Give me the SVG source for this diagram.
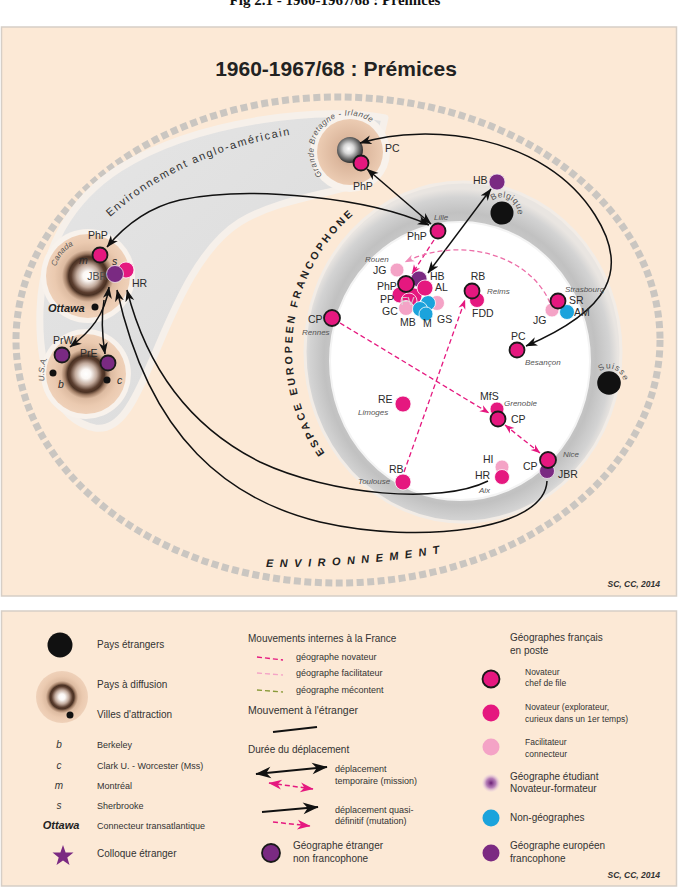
<svg xmlns="http://www.w3.org/2000/svg" width="678" height="889" viewBox="0 0 678 889">
<defs>
<style>
text{font-family:"Liberation Sans",Arial,sans-serif;fill:#2b2b2b}
.lbl{font-size:10.5px}
.city{font-size:8px;font-style:italic;fill:#555}
.arc{font-size:8px;fill:#555}
.lg{font-size:10px;fill:#333}
.ls{font-size:9px;fill:#333}
.lt{font-size:8.5px;fill:#333}
.pk{fill:#e5187f;stroke:#fff;stroke-width:0.8}
.pkb{fill:#e5187f;stroke:#1a1a1a;stroke-width:1.8}
.pl{fill:#f4a3c6;stroke:#fff;stroke-width:0.8}
.pu{fill:#7a2a82;stroke:#f0e4f0;stroke-width:0.8}
.pub{fill:#7a2a82;stroke:#1a1a1a;stroke-width:1.8}
.bl{fill:#1ba3dc;stroke:#fff;stroke-width:0.8}
.blk{fill:#111}
.arr{fill:none;stroke:#111;stroke-width:1.5}
.pdash{fill:none;stroke:#e5187f;stroke-width:1.3;stroke-dasharray:5 3}
</style>
<marker id="aB" viewBox="0 0 12 10" refX="11.5" refY="5" markerWidth="12" markerHeight="10" markerUnits="userSpaceOnUse" orient="auto-start-reverse"><path d="M0,0.5 L12,5 L0,9.5 L3.5,5z" fill="#111"/></marker>
<marker id="aBL" viewBox="0 0 12 10" refX="11.5" refY="5" markerWidth="17" markerHeight="13" markerUnits="userSpaceOnUse" orient="auto-start-reverse"><path d="M0,0.5 L12,5 L0,9.5 L3.5,5z" fill="#111"/></marker>
<marker id="aP" viewBox="0 0 12 10" refX="11.5" refY="5" markerWidth="10" markerHeight="8" markerUnits="userSpaceOnUse" orient="auto-start-reverse"><path d="M0,0.5 L12,5 L0,9.5 L3.5,5z" fill="#e5187f"/></marker>
<marker id="aPL" viewBox="0 0 12 10" refX="11.5" refY="5" markerWidth="14" markerHeight="11" markerUnits="userSpaceOnUse" orient="auto-start-reverse"><path d="M0,0.5 L12,5 L0,9.5 L3.5,5z" fill="#e5187f"/></marker>
<marker id="aL" viewBox="0 0 12 10" refX="11.5" refY="5" markerWidth="10" markerHeight="8" markerUnits="userSpaceOnUse" orient="auto-start-reverse"><path d="M0,0.5 L12,5 L0,9.5 L3.5,5z" fill="#f08dba"/></marker>
<radialGradient id="sph">
<stop offset="0" stop-color="#ffffff"/>
<stop offset="0.12" stop-color="#fbf7f4"/>
<stop offset="0.27" stop-color="#c2aa9c"/>
<stop offset="0.4" stop-color="#5a3d2e"/>
<stop offset="0.46" stop-color="#4a3123"/>
<stop offset="0.53" stop-color="#a07d65"/>
<stop offset="0.62" stop-color="#ddbba1"/>
<stop offset="0.8" stop-color="#ebcab0"/>
<stop offset="1" stop-color="#efd1b9"/>
</radialGradient>
<radialGradient id="silver" cx="0.45" cy="0.45" r="0.55">
<stop offset="0" stop-color="#ffffff"/>
<stop offset="0.35" stop-color="#d8d8d8"/>
<stop offset="0.75" stop-color="#6a6a6a"/>
<stop offset="1" stop-color="#2e2e2e"/>
</radialGradient>
<radialGradient id="gbd">
<stop offset="0" stop-color="#b89580"/>
<stop offset="0.45" stop-color="#dcb79d"/>
<stop offset="1" stop-color="#ecccb3"/>
</radialGradient>
<radialGradient id="eg" cx="0.49" cy="0.52" r="0.5">
<stop offset="0.7" stop-color="#d2d2d2"/>
<stop offset="0.86" stop-color="#c1c1c1"/>
<stop offset="0.95" stop-color="#d3d3d3"/>
<stop offset="1" stop-color="#e9e5e1"/>
</radialGradient>
<linearGradient id="bandg" x1="0" y1="0" x2="1" y2="1">
<stop offset="0" stop-color="#e6e6e6"/>
<stop offset="1" stop-color="#d9d9d9"/>
</linearGradient>
<radialGradient id="pg">
<stop offset="0" stop-color="#6a1f75"/>
<stop offset="0.5" stop-color="#a565b0" stop-opacity="0.8"/>
<stop offset="1" stop-color="#e8d0ea" stop-opacity="0"/>
</radialGradient>
<path id="tpEsp" d="M324.7 453.2 A180 180 0 0 1 361.2 208.2"/>
<path id="tpAng" d="M110 217 Q182 153 295 134"/>
<path id="tpEnv" d="M266 567 Q360 568 452 551"/>
<path id="tpGB" d="M322.4 175.1 A36 36 0 0 1 375.5 126.5"/>
<path id="tpCan" d="M56.1 266.5 A33 33 0 0 1 74 245.1"/>
<path id="tpUSA" d="M44.6 380.9 A40 40 0 0 1 47.7 357.1"/>
<path id="tpBel" d="M492.5 200.8 A15.5 15.5 0 0 1 517.2 216.2"/>
<path id="tpSui" d="M600.1 371.6 A14.5 14.5 0 0 1 623.3 380.5"/>
</defs>

<rect width="678" height="889" fill="#ffffff"/>
<text x="335" y="5" text-anchor="middle" style="font-family:'Liberation Serif','Times New Roman',serif;font-weight:bold;font-size:15px;fill:#111">Fig 2.1 - 1960-1967/68 : Prémices</text>

<!-- main panel -->
<rect x="1.5" y="27" width="675" height="569" fill="#fce9d6" stroke="#d6cec6" stroke-width="1.5"/>
<text x="336" y="76" text-anchor="middle" style="font-size:21px;font-weight:bold;fill:#222">1960-1967/68 : Prémices</text>

<!-- outer environment ring -->
<ellipse cx="338" cy="340" rx="322" ry="243" fill="none" stroke="#cac6c1" stroke-width="7" stroke-dasharray="7 3.5"/>

<!-- anglo-american band -->
<path d="M385 118 C330 106 200 118 120 168 C70 200 42 250 40 310 C38 370 55 420 95 428 C120 432 135 400 150 365 C170 320 195 250 240 222 C280 198 330 195 370 180 Z" fill="url(#bandg)" stroke="#f6f0ea" stroke-width="7" stroke-linejoin="round"/>

<!-- espace européen francophone -->
<ellipse cx="463" cy="352" rx="158" ry="170" fill="url(#eg)" stroke="#f2ece6" stroke-width="3"/>
<ellipse cx="460" cy="361" rx="130" ry="139" fill="#ffffff" stroke="#f4f4f4" stroke-width="2"/>

<!-- countries -->
<g id="canada">
<circle cx="88" cy="276" r="47" fill="#f8f2ec"/>
<circle cx="88" cy="276" r="42" fill="url(#sph)"/>
<text class="arc" font-style="italic"><textPath href="#tpCan">Canada</textPath></text>
</g>
<g id="usa">
<circle cx="86" cy="374" r="45" fill="#f8f2ec"/>
<circle cx="86" cy="374" r="40" fill="url(#sph)"/>
<text class="arc" font-style="italic"><textPath href="#tpUSA">U.S.A.</textPath></text>
</g>
<g id="gb">
<circle cx="350" cy="152" r="40" fill="#f8f2ec"/>
<circle cx="350" cy="152" r="33" fill="url(#gbd)"/>
<circle cx="350" cy="150" r="13" fill="url(#silver)"/>
<text class="arc" font-style="italic" letter-spacing="0.5"><textPath href="#tpGB">Grande Bretagne - Irlande</textPath></text>
</g>
<g id="belgique">
<circle cx="502" cy="213" r="11.5" class="blk"/>
<text class="arc" style="font-size:8.5px" letter-spacing="0.4"><textPath href="#tpBel">Belgique</textPath></text>
</g>
<g id="suisse">
<circle cx="609" cy="383" r="11.8" class="blk"/>
<text class="arc" style="font-size:8.5px" letter-spacing="0.8"><textPath href="#tpSui">Suisse</textPath></text>
</g>

<!-- region labels -->
<text style="font-size:11px;fill:#333" letter-spacing="1.6"><textPath href="#tpAng">Environnement anglo-américain</textPath></text>
<text style="font-size:10.5px;font-weight:bold;fill:#222" letter-spacing="2.8"><textPath href="#tpEsp">ESPACE EUROPEEN FRANCOPHONE</textPath></text>
<text style="font-size:11px;font-weight:bold;font-style:italic;fill:#222" letter-spacing="6.5"><textPath href="#tpEnv">ENVIRONNEMENT</textPath></text>

<!-- connectors -->
<g id="connectors">
<path class="arr" d="M429 225 C370 198 250 185 180 200 C150 207 126 224 107 247" marker-start="url(#aB)" marker-end="url(#aB)"/>
<path class="arr" d="M367 169 L431 224" marker-start="url(#aB)" marker-end="url(#aB)"/>
<path class="arr" d="M360 143 C430 122 545 135 595 215 C630 270 610 310 526 346" marker-start="url(#aB)" marker-end="url(#aB)"/>
<path class="arr" d="M491 189 L428 273" marker-start="url(#aB)" marker-end="url(#aB)"/>
<path class="arr" d="M488 481 C440 505 330 495 260 462 C200 432 150 380 127 290" marker-end="url(#aB)"/>
<path class="arr" d="M547 481 C545 530 420 545 320 522 C230 500 150 440 117 290" marker-end="url(#aB)"/>
<path class="arr" d="M109 287 C105 315 90 332 70 347" marker-start="url(#aB)" marker-end="url(#aB)"/>
<path class="arr" d="M104 300 C101 318 102 335 105 354" marker-end="url(#aB)"/>
<path class="pdash" d="M340 323 L489 413" marker-end="url(#aP)"/>
<path class="pdash" d="M505 425 L540 453" marker-start="url(#aP)" marker-end="url(#aP)"/>
<path class="pdash" d="M404 472 L465 300" marker-end="url(#aP)"/>
<path class="pdash" d="M434 240 L412 274" marker-end="url(#aP)"/>
<path class="pdash" style="stroke:#ec6ea8" d="M550 303 C530 255 460 235 405 262" marker-end="url(#aL)"/>
</g>

<!-- nodes: Canada / USA -->
<g id="n-canada-php">
<circle cx="100" cy="255" r="7.5" class="pkb"/>
<text x="88" y="239" class="lbl">PhP</text>
<text x="79" y="264" class="lbl" font-style="italic">m</text>
<text x="112" y="265" class="lbl" font-style="italic">s</text>
</g>
<g id="n-canada-hr">
<circle cx="126" cy="270" r="8" class="pk"/>
<text x="132" y="287" class="lbl">HR</text>
</g>
<g id="n-canada-jbr">
<circle cx="115" cy="274" r="8.5" class="pu"/>
<text x="107" y="280" text-anchor="end" class="lbl" style="fill:#4a4a4a">JBR</text>
</g>
<g id="n-ottawa">
<circle cx="95" cy="307" r="3.5" class="blk"/>
<text x="48" y="312" style="font-size:11px;font-weight:bold;font-style:italic;fill:#222">Ottawa</text>
</g>
<g id="n-prw">
<circle cx="62" cy="355" r="7.5" class="pub"/>
<text x="53" y="344" class="lbl">PrW</text>
</g>
<g id="n-pre">
<circle cx="108" cy="363" r="7.5" class="pub"/>
<text x="80" y="357" class="lbl">PrE</text>
</g>
<g id="n-berkeley">
<circle cx="53" cy="373" r="3.5" class="blk"/>
<text x="58" y="388" class="lbl" font-style="italic">b</text>
</g>
<g id="n-clark">
<circle cx="107" cy="380" r="3.5" class="blk"/>
<text x="117" y="384" class="lbl" font-style="italic">c</text>
</g>

<!-- GB -->
<g id="n-gb-php">
<circle cx="361" cy="163" r="7.5" class="pkb"/>
<text x="353" y="190" class="lbl">PhP</text>
<text x="385" y="152" class="lbl">PC</text>
</g>
<!-- Belgique HB -->
<g id="n-hb-belgique">
<circle cx="497" cy="182" r="8" class="pu"/>
<text x="473" y="184" class="lbl">HB</text>
</g>

<!-- Lille -->
<g id="n-lille">
<circle cx="438" cy="231" r="7.5" class="pkb"/>
<text x="407" y="240" class="lbl">PhP</text>
<text x="434" y="220" class="city">Lille</text>
</g>

<!-- Paris cluster -->
<g id="n-paris">
<circle cx="400" cy="295" r="8" class="pk"/>
<circle cx="414" cy="296" r="8" class="pk"/>
<circle cx="409" cy="301" r="8" class="pk"/>
<circle cx="406" cy="308" r="7.5" class="pl"/>
<circle cx="437" cy="303" r="7.5" class="pl"/>
<circle cx="428" cy="303" r="7.5" class="bl"/>
<circle cx="420" cy="309" r="7.5" class="bl"/>
<circle cx="426" cy="314" r="7" class="bl"/>
<circle cx="419" cy="279" r="8" class="pu"/>
<circle cx="425" cy="288" r="8" class="pk"/>
<circle cx="406" cy="284" r="8" class="pkb"/>
<text x="377" y="290" class="lbl">PhP</text>
<text x="430" y="280" class="lbl">HB</text>
<text x="435" y="291" class="lbl">AL</text>
<text x="380" y="303" class="lbl">PP</text>
<text x="401" y="305" class="lbl" style="fill:#dadada">FV</text>
<text x="382" y="315" class="lbl">GC</text>
<text x="400" y="326" class="lbl">MB</text>
<text x="423" y="327" class="lbl">M</text>
<text x="437" y="323" class="lbl">GS</text>
</g>
<g id="n-rouen">
<circle cx="397" cy="270" r="7" class="pl"/>
<text x="373" y="274" class="lbl">JG</text>
<text x="365" y="262" class="city">Rouen</text>
</g>

<!-- Reims -->
<g id="n-reims">
<circle cx="477" cy="300" r="7.5" class="pk"/>
<circle cx="472" cy="291" r="7.5" class="pkb"/>
<text x="478" y="280" text-anchor="middle" class="lbl">RB</text>
<text x="487" y="294" class="city">Reims</text>
<text x="472" y="317" class="lbl">FDD</text>
</g>

<!-- Strasbourg -->
<g id="n-strasbourg">
<circle cx="552" cy="310" r="7" class="pl"/>
<circle cx="567" cy="312" r="7.5" class="bl"/>
<circle cx="558" cy="301" r="7.5" class="pkb"/>
<text x="565" y="292" class="city">Strasbourg</text>
<text x="569" y="304" class="lbl">SR</text>
<text x="574" y="316" class="lbl">AM</text>
<text x="533" y="324" class="lbl">JG</text>
</g>

<!-- Besançon -->
<g id="n-besancon">
<circle cx="517" cy="350" r="7.5" class="pkb"/>
<text x="511" y="340" class="lbl">PC</text>
<text x="525" y="365" class="city">Besançon</text>
</g>

<!-- Rennes -->
<g id="n-rennes">
<circle cx="332" cy="318" r="8" class="pkb"/>
<text x="308" y="323" class="lbl">CP</text>
<text x="302" y="335" class="city">Rennes</text>
</g>

<!-- Limoges -->
<g id="n-limoges">
<circle cx="403" cy="404" r="8" class="pk"/>
<text x="378" y="403" class="lbl">RE</text>
<text x="358" y="415" class="city">Limoges</text>
</g>

<!-- Grenoble -->
<g id="n-grenoble">
<circle cx="497" cy="409" r="7" class="pk"/>
<circle cx="498" cy="419" r="7.5" class="pkb"/>
<text x="480" y="400" class="lbl">MfS</text>
<text x="504" y="406" class="city">Grenoble</text>
<text x="511" y="423" class="lbl">CP</text>
</g>

<!-- Toulouse -->
<g id="n-toulouse">
<circle cx="403" cy="482" r="8" class="pk"/>
<text x="389" y="473" class="lbl">RB</text>
<text x="358" y="484" class="city">Toulouse</text>
</g>

<!-- Aix -->
<g id="n-aix">
<circle cx="502" cy="467" r="7" class="pl"/>
<circle cx="502" cy="477" r="7.5" class="pk"/>
<text x="483" y="463" class="lbl">HI</text>
<text x="475" y="479" class="lbl">HR</text>
<text x="479" y="493" class="city">Aix</text>
</g>

<!-- Nice -->
<g id="n-nice">
<circle cx="547" cy="471" r="7.5" class="pu"/>
<circle cx="548" cy="460" r="8" class="pkb"/>
<text x="523" y="470" class="lbl">CP</text>
<text x="558" y="478" class="lbl">JBR</text>
<text x="563" y="457" class="city">Nice</text>
</g>

<text x="660" y="587" text-anchor="end" style="font-size:8.5px;font-weight:bold;font-style:italic;fill:#333">SC, CC, 2014</text>

<!-- legend -->
<g id="legend">
<rect x="1.5" y="611" width="675" height="275" fill="#fce9d6" stroke="#d6cec6" stroke-width="1.5"/>
<circle cx="60" cy="645" r="12.5" class="blk"/>
<text x="97" y="648" class="lg">Pays étrangers</text>
<circle cx="62" cy="697" r="26" fill="url(#sph)"/>
<circle cx="70" cy="715" r="3.5" class="blk"/>
<text x="97" y="688" class="lg">Pays à diffusion</text>
<text x="97" y="718" class="lg">Villes d'attraction</text>
<text x="59" y="748" text-anchor="middle" class="lg" font-style="italic">b</text>
<text x="97" y="748" class="ls">Berkeley</text>
<text x="59" y="769" text-anchor="middle" class="lg" font-style="italic">c</text>
<text x="97" y="769" class="ls">Clark U. - Worcester (Mss)</text>
<text x="59" y="789" text-anchor="middle" class="lg" font-style="italic">m</text>
<text x="97" y="789" class="ls">Montréal</text>
<text x="59" y="809" text-anchor="middle" class="lg" font-style="italic">s</text>
<text x="97" y="809" class="ls">Sherbrooke</text>
<text x="61" y="829" text-anchor="middle" style="font-size:11px;font-weight:bold;font-style:italic;fill:#222">Ottawa</text>
<text x="97" y="829" class="ls">Connecteur transatlantique</text>
<polygon points="63,845 65.6,852.4 73.5,852.6 67.3,857.4 69.5,864.9 63,860.5 56.5,864.9 58.7,857.4 52.5,852.6 60.4,852.4" fill="#7b2a82"/>
<text x="97" y="857" class="lg">Colloque étranger</text>

<text x="248" y="642" class="lg">Mouvements internes à la France</text>
<line x1="257" y1="657" x2="283" y2="660" stroke="#e5187f" stroke-width="1.3" stroke-dasharray="5 3"/>
<text x="296" y="660" class="ls">géographe novateur</text>
<line x1="257" y1="673" x2="283" y2="675" stroke="#f4a3c6" stroke-width="1.3" stroke-dasharray="5 3"/>
<text x="296" y="676" class="ls">géographe facilitateur</text>
<line x1="257" y1="690" x2="283" y2="692" stroke="#8a9a3a" stroke-width="1.3" stroke-dasharray="5 3"/>
<text x="296" y="693" class="ls">géographe mécontent</text>
<text x="248" y="714" style="font-size:10.5px;fill:#333">Mouvement à l'étranger</text>
<line x1="273" y1="732" x2="317" y2="727" stroke="#111" stroke-width="1.8"/>
<text x="248" y="753" class="lg">Durée du déplacement</text>
<line x1="256" y1="774" x2="327" y2="767" stroke="#111" stroke-width="1.8" marker-start="url(#aBL)" marker-end="url(#aBL)"/>
<line x1="269" y1="783" x2="313" y2="789" stroke="#e5187f" stroke-width="1.5" stroke-dasharray="5 3" marker-start="url(#aPL)" marker-end="url(#aPL)"/>
<text x="335" y="772" class="ls">déplacement</text>
<text x="335" y="784" class="ls">temporaire (mission)</text>
<line x1="262" y1="812" x2="318" y2="807" stroke="#111" stroke-width="1.8" marker-end="url(#aBL)"/>
<line x1="273" y1="822" x2="310" y2="826" stroke="#e5187f" stroke-width="1.5" stroke-dasharray="5 3" marker-end="url(#aPL)"/>
<text x="335" y="813" class="ls">déplacement quasi-</text>
<text x="335" y="824" class="ls">définitif (mutation)</text>
<circle cx="271" cy="853" r="9" class="pub"/>
<text x="293" y="849" class="lg">Géographe étranger</text>
<text x="293" y="862" class="lg">non francophone</text>

<text x="510" y="641" class="lg">Géographes français</text>
<text x="510" y="654" class="lg">en poste</text>
<circle cx="491" cy="679" r="8.5" class="pkb"/>
<text x="525" y="675" class="lt">Novateur</text>
<text x="525" y="686" class="lt">chef de file</text>
<circle cx="491" cy="713" r="8.5" fill="#e5187f"/>
<text x="525" y="710" class="lt">Novateur (explorateur,</text>
<text x="525" y="722" class="lt">curieux dans un 1er temps)</text>
<circle cx="491" cy="747" r="8.5" fill="#f4a3c6"/>
<text x="525" y="745" class="lt">Facilitateur</text>
<text x="525" y="757" class="lt">connecteur</text>
<circle cx="491" cy="783" r="9.5" fill="url(#pg)"/>
<text x="510" y="780" class="lg">Géographe étudiant</text>
<text x="510" y="792" class="lg">Novateur-formateur</text>
<circle cx="491" cy="818" r="8.5" fill="#1ba3dc"/>
<text x="510" y="821" class="lg">Non-géographes</text>
<circle cx="491" cy="853" r="8.5" fill="#7b2a82"/>
<text x="510" y="849" class="lg">Géographe européen</text>
<text x="510" y="862" class="lg">francophone</text>
<text x="660" y="878" text-anchor="end" style="font-size:8.5px;font-weight:bold;font-style:italic;fill:#333">SC, CC, 2014</text>
</g>
</svg>
